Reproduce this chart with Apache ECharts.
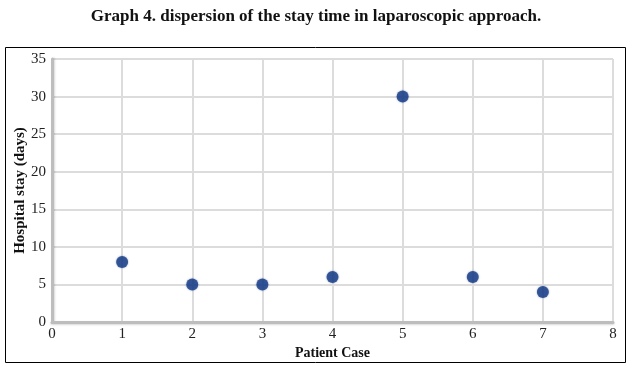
<!DOCTYPE html>
<html><head><meta charset="utf-8">
<script src="https://cdn.jsdelivr.net/npm/echarts@6/dist/echarts.min.js"></script>
<style>html,body{margin:0;padding:0;background:#fff}#c{width:632px;height:368px}</style>
</head><body><div id="c"></div>
<script>
const cases = [1, 2, 3, 4, 5, 6, 7];
const stayDays = [8, 5, 5, 6, 30, 6, 4];
const xTicks = [0, 1, 2, 3, 4, 5, 6, 7, 8];
const yTicks = [0, 5, 10, 15, 20, 25, 30, 35];

const chart = echarts.init(document.getElementById('c'));
const serif = '"Liberation Serif", "DejaVu Serif", serif';
chart.setOption({
  animation: false,
  title: {
    text: 'Graph 4. dispersion of the stay time in laparoscopic approach.',
    left: 'center', top: 3,
    textStyle: { fontFamily: serif, fontWeight: 'bold', fontSize: 17, color: '#111' }
  },
  graphic: [{
    type: 'rect', shape: { x: 5.5, y: 47.5, width: 620, height: 315 },
    style: { fill: 'none', stroke: '#000', lineWidth: 1 }, z: -1
  }],
  grid: { left: 52, right: 19, top: 59, bottom: 46, containLabel: false, outerBoundsMode: 'none' },
  xAxis: {
    type: 'value', min: 0, max: 8, interval: 1,
    name: 'Patient Case', nameLocation: 'middle', nameGap: 24, nameMoveOverlap: false,
    nameTextStyle: { fontFamily: serif, fontWeight: 'bold', fontSize: 14, color: '#111' },
    axisLine: { lineStyle: { color: '#bdbdbd', width: 3, shadowColor: 'rgba(0,0,0,0.15)', shadowBlur: 2, shadowOffsetY: 1 } },
    axisTick: { show: false },
    axisLabel: { fontFamily: serif, fontSize: 15, color: '#222', margin: 5,
      formatter: v => xTicks.includes(v) ? String(v) : '' },
    splitLine: { lineStyle: { color: '#dcdcdc', width: 2 } }
  },
  yAxis: {
    type: 'value', min: 0, max: 35, interval: 5,
    name: 'Hospital stay (days)', nameLocation: 'middle', nameGap: 32, nameMoveOverlap: false,
    nameTextStyle: { fontFamily: serif, fontWeight: 'bold', fontSize: 15, color: '#111', verticalAlign: 'middle' },
    axisLine: { show: true, lineStyle: { color: '#bdbdbd', width: 3, shadowColor: 'rgba(0,0,0,0.15)', shadowBlur: 2, shadowOffsetX: 1 } },
    axisTick: { show: false },
    axisLabel: { fontFamily: serif, fontSize: 15, color: '#222', margin: 6,
      formatter: v => yTicks.includes(v) ? String(v) : '' },
    splitLine: { lineStyle: { color: '#dcdcdc', width: 2 } }
  },
  series: [{
    type: 'scatter',
    data: cases.map((c, i) => [c, stayDays[i]]),
    symbolSize: 12,
    itemStyle: { color: '#143a85', shadowColor: 'rgba(20,58,133,0.5)', shadowBlur: 2 }
  }]
});
</script></body></html>
